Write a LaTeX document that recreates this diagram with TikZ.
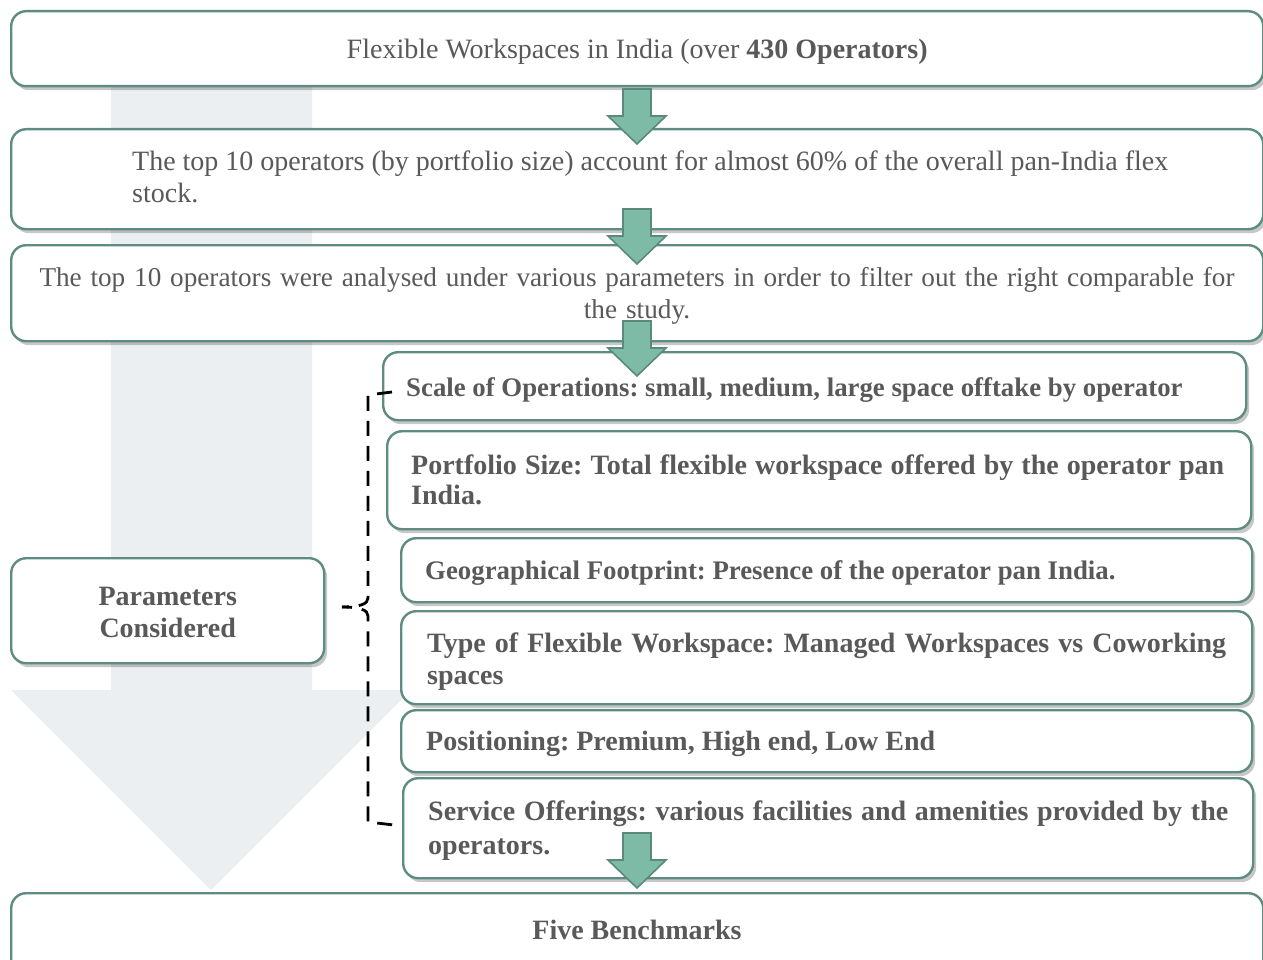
\documentclass[tikz,border=0pt]{standalone}
\usepackage{fontspec}
\setmainfont{Liberation Serif}
\usetikzlibrary{shadows,calc}
\definecolor{boxline}{HTML}{5F8C80}
\definecolor{txtgrey}{HTML}{595959}
\definecolor{bgarrow}{HTML}{EBEFF2}
\definecolor{garfill}{HTML}{7DBBA6}
\definecolor{garline}{HTML}{5B8A7A}
\frenchspacing
\tikzset{
  box/.style={draw=boxline, line width=2.4pt, fill=white, rounded corners=15pt,
    anchor=north west, inner sep=0pt,
    drop shadow={shadow xshift=3pt, shadow yshift=-4pt, opacity=0.22, fill=black}},
  txt/.style={text=txtgrey, inner sep=0pt, font=\fontsize{28}{32}\selectfont\frenchspacing},
  btxt/.style={txt, font=\fontsize{28}{32}\selectfont\bfseries\frenchspacing},
  garrow/.pic={\draw[fill=garfill, draw=garline, line width=1.6pt, line join=miter]
    (-14,0) -- (14,0) -- (14,27) -- (29,27) -- (0,55) -- (-29,27) -- (-14,27) -- cycle;},
  brace/.style={draw=black, line width=2.8pt, dash pattern=on 15pt off 10pt}
}
\begin{document}
\begin{tikzpicture}[x=1pt, y=-1pt]
\useasboundingbox (0,0) rectangle (1263,960);
% background arrow
\fill[bgarrow] (111,82) -- (312,82) -- (312,690) -- (411,690) -- (211,890) -- (11,690) -- (111,690) -- cycle;
% main boxes
\node[box, minimum width=1252pt, minimum height=75pt] (b1) at (10,10) {};
\node[txt] (t1) at ($(b1.center)+(0,3)$) {Flexible Workspaces in India (over \textbf{430 Operators)}};
\node[box, minimum width=1252pt, minimum height=100pt] (b2) at (10,128) {};
\node[txt, anchor=north west, text width=1036pt, align=justify] (t2) at (132,151) {The top 10 operators (by portfolio size) account for almost 60\% of the overall pan-India flex stock.};
\node[box, minimum width=1252pt, minimum height=96pt] (b3) at (10,244) {};
\node[txt, anchor=north, text width=1200pt, align=center, font=\fontsize{27.2}{32}\selectfont] (t3) at (637,267) {{\spaceskip=0.25em plus 1em\makebox[1195pt][s]{The top 10 operators were analysed under various parameters in order to filter out the right comparable for}}\\the study.};
% parameter boxes
\node[box, minimum width=863pt, minimum height=68pt] (p1) at (382,351) {};
\node[btxt, anchor=west, font=\fontsize{26.8}{32}\selectfont\bfseries] (q1) at (406,390) {Scale of Operations: small, medium, large space offtake by operator};
\node[box, minimum width=864pt, minimum height=98pt] (p2) at (386,430) {};
\node[btxt, anchor=north west, text width=813pt, align=justify, font=\fontsize{28}{30}\selectfont\bfseries] (q2) at (411,455) {Portfolio Size: Total flexible workspace offered by the operator pan India.};
\node[box, minimum width=851pt, minimum height=64pt] (p3) at (400,537) {};
\node[btxt, anchor=west, font=\fontsize{26.8}{32}\selectfont\bfseries] (q3) at (425,573) {Geographical Footprint: Presence of the operator pan India.};
\node[box, minimum width=851pt, minimum height=93pt] (p4) at (400,610) {};
\node[btxt, anchor=north west, text width=799pt, align=justify] (q4) at (427,633) {Type of Flexible Workspace: Managed Workspaces vs Coworking spaces};
\node[box, minimum width=851pt, minimum height=62pt] (p5) at (400,709) {};
\node[btxt, anchor=west] (q5) at (426,744) {Positioning: Premium, High end, Low End};
\node[box, minimum width=850pt, minimum height=100pt] (p6) at (402,777) {};
\node[btxt, anchor=north west, text width=800pt, align=justify, font=\fontsize{28}{34}\selectfont\bfseries] (q6) at (428,801) {Service Offerings: various facilities and amenities provided by the operators.};
% parameters considered
\node[box, minimum width=313pt, minimum height=105pt] (pc) at (10,557) {};
\node[btxt, align=center] (tpc) at ($(pc.center)+(0,2)$) {Parameters\\Considered};
% bottom box
\node[box, minimum width=1252pt, minimum height=90pt] (b4) at (10,892) {};
\node[btxt] (t4) at (637,930) {Five Benchmarks};
% brace
\coordinate (bt) at (392,392);
\coordinate (bm) at (342,607);
\coordinate (bb) at (394,825);
\draw[brace] (bt) -- (368,395) -- (368,598) .. controls (368,604) and (360,607) .. (bm);
\draw[brace, dash phase=5pt] (bm) .. controls (360,607) and (368,610) .. (368,616) -- (368,822) -- (bb);
% green arrows
\pic (a1) at (637,89) {garrow};
\pic (a2) at (637,209) {garrow};
\pic (a3) at (637,321) {garrow};
\pic (a4) at (637,833) {garrow};
\end{tikzpicture}
\end{document}
